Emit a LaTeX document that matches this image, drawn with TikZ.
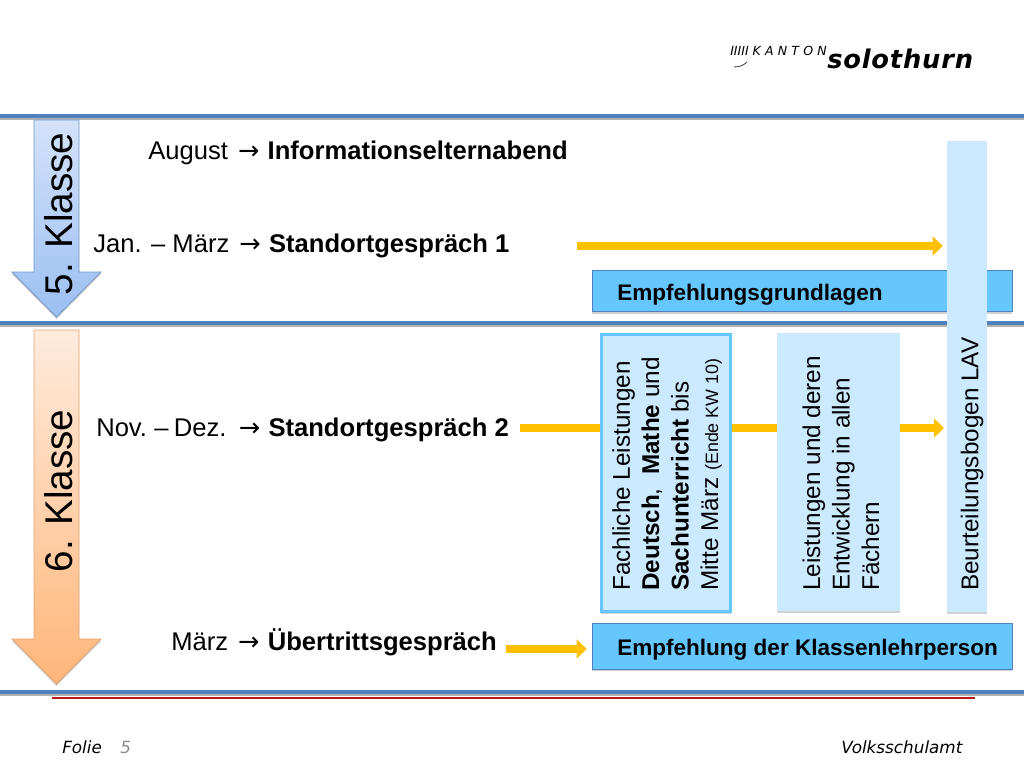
\documentclass[tikz,border=0pt]{standalone}
\usepackage{fontspec}
\setmainfont{Liberation Sans}
\newfontfamily\footfont{DejaVu Sans}
\newfontfamily\arrowfont{DejaVu Sans}
\usetikzlibrary{arrows.meta,shadows,calc}
\definecolor{rulecol}{HTML}{4F81BD}
\definecolor{pale}{HTML}{CCEAFF}
\definecolor{sky}{HTML}{66C7FF}
\definecolor{amber}{HTML}{FFC000}
\definecolor{bluetop}{HTML}{D3E2FA}
\definecolor{bluebot}{HTML}{9CBFF2}
\definecolor{orangetop}{HTML}{FFEBDD}
\definecolor{orangebot}{HTML}{FFB67A}
\newcommand{\arr}{\kern2.2pt{\arrowfont\char"2192}\kern.8pt}
\tikzset{
  x=0.75pt,y=-0.75pt,
  softshadow/.style={drop shadow={shadow xshift=0pt,shadow yshift=-1.5pt,opacity=.3,fill=black!60}},
  rulebar/.style={draw=rulecol,line width=3.4pt,line cap=butt,
    preaction={draw=black!30,line width=3.4pt,transform canvas={yshift=-1.5pt}}},
  flow/.style={draw=amber,line width=6.6pt,shorten >=3pt,-{Triangle[length=7.5pt,width=14pt]}},
  palebox/.style={fill=pale,softshadow,inner sep=0pt,rotate=90},
  skybox/.style={fill=sky,draw=rulecol,line width=.6pt,softshadow,inner sep=0pt,minimum height=31pt},
  skytext/.style={font=\fontsize{16.9}{20}\selectfont\bfseries,anchor=base west,inner sep=0pt},
  linetext/.style={font=\fontsize{19.2}{23}\selectfont,anchor=base west,inner sep=0pt},
  paletext/.style={anchor=west,rotate=90,inner sep=0pt,align=left,font=\fontsize{18.2}{22.1}\selectfont},
  klasse/.style={rotate=90,font=\fontsize{29}{34}\selectfont,inner sep=0pt,anchor=base},
  foot/.style={font=\footfont\fontsize{12.6}{15}\selectfont\itshape,anchor=base west,inner sep=0pt},
}
\begin{document}
\begin{tikzpicture}
\useasboundingbox (0,0) rectangle (1024,768);
\fill[white] (0,0) rectangle (1024,768);
% logo
\node[anchor=base west,inner sep=0pt,font=\footfont\fontsize{9.4}{11}\selectfont\itshape] (logoa) at (730,55) {IIIII K\,\,A\,\,N\,\,T\,\,O\,\,N};
\node[anchor=base west,inner sep=0pt,font=\footfont\fontsize{19.3}{22}\selectfont\bfseries\itshape] (logob) at (827,68) {s\kern.6pt o\kern.6pt l\kern.6pt o\kern.6pt t\kern.6pt h\kern.6pt u\kern.6pt r\kern.6pt n};
\draw[black!80,line width=.6pt] (734,67) .. controls (740,67) and (744,65) .. (747,62);
% rules
\coordinate (r1a) at (0,116); \coordinate (r1b) at (1024,116);
\coordinate (r2a) at (0,323); \coordinate (r2b) at (1024,323);
\coordinate (r3a) at (0,692); \coordinate (r3b) at (1024,692);
\coordinate (r4a) at (52,698); \coordinate (r4b) at (975,698);
\draw[rulebar] (r1a) -- (r1b);
\draw[rulebar] (r2a) -- (r2b);
\draw[rulebar] (r3a) -- (r3b);
\draw[draw=red!70!black!90,line width=.8pt] (r4a) -- (r4b);
% big arrows
\path[draw=rulecol!80,line width=.6pt,top color=bluetop,bottom color=bluebot,softshadow]
  (34,120) -- (79,120) -- (79,272) -- (101,272) -- (56.5,317) -- (12,272) -- (34,272) -- cycle;
\path[draw=orangebot!90!black,line width=.6pt,top color=orangetop,bottom color=orangebot,softshadow]
  (34,330) -- (79,330) -- (79,639) -- (101,639) -- (56.5,684) -- (12,639) -- (34,639) -- cycle;
\node[klasse] (k5) at (72,214) {5. Klasse};
\node[klasse] (k6) at (72,491) {6. Klasse};
% left labels
\node[linetext] (t1) at (148,159) {August \arr{} \textbf{Informationselternabend}};
\node[linetext] (t2) at (93,252) {Jan. – März \arr{} \textbf{Standortgespräch 1}};
\node[linetext] (t3) at (96,436) {Nov.\kern-1.5pt{} – \kern-1.5pt{}Dez. \arr{} \textbf{Standortgespräch 2}};
\node[linetext] (t4) at (171,650) {März \arr{} \textbf{Übertrittsgespräch}};
% flow start points
\coordinate (f1) at (577,246);
\coordinate (f2) at (520,428);
\coordinate (f3) at (506,649);
% blue boxes
\node[skybox,minimum width=315pt,anchor=north west] (eg) at (592,270) {};
\node[skytext] (egt) at (617,300) {Empfehlungsgrundlagen};
\node[skybox,minimum width=315pt,minimum height=34.5pt,anchor=north west] (ek) at (592,623) {};
\node[skytext] (ekt) at (617,655) {Empfehlung der Klassenlehrperson};
% flows
\draw[flow] (f2) -- ($(f2)+(428,0)$) coordinate (f2e);
% pale boxes
\node[palebox,minimum width=208pt,minimum height=97pt,draw=sky,line width=2.6pt,anchor=center] (fach) at (666,473) {};
\node[paletext] (facht) at (667,591)
 {Fachliche Leistungen\\\textbf{Deutsch}, \ \textbf{Mathe} und\\\textbf{Sachunterricht} bis\\Mitte März {\fontsize{13.4}{15}\selectfont (Ende KW 10)}};
\node[palebox,minimum width=208pt,minimum height=92pt,anchor=center] (leist) at (838.5,472) {};
\node[paletext] (leistt) at (841,591)
 {Leistungen und deren\\Entwicklung in allen\\Fächern};
\node[palebox,minimum width=353pt,minimum height=30pt,anchor=center] (lav) at (967,376.5) {};
\node[paletext] (lavt) at (972,591) {Beurteilungsbogen LAV};
\draw[flow] (f1) -- (lav.north |- f1);
\draw[flow,shorten >=4pt] (f3) -- (ek.west |- f3);
% footer
\node[foot] (fa) at (62,753) {Folie};
\node[foot,text=black!45] (fb) at (120,753) {5};
\node[foot] (fc) at (841,753) {Volksschulamt};
\end{tikzpicture}
\end{document}
